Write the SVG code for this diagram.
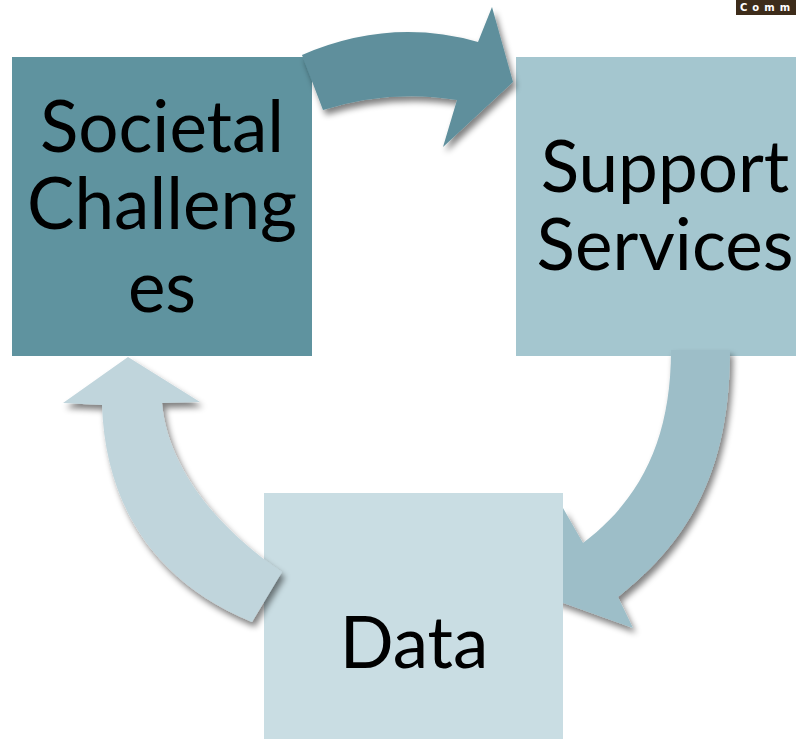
<svg xmlns="http://www.w3.org/2000/svg" width="796" height="739" viewBox="0 0 796 739">
<defs>
<filter id="sh" x="-20%" y="-20%" width="140%" height="140%">
<feGaussianBlur in="SourceAlpha" stdDeviation="3"/>
<feOffset dx="3" dy="5" result="b"/>
<feComponentTransfer><feFuncA type="linear" slope="0.5"/></feComponentTransfer>
<feMerge><feMergeNode/><feMergeNode in="SourceGraphic"/></feMerge>
</filter>
<style>
.lbl{font-family:Lato,"Open Sans","Liberation Sans",sans-serif;font-size:71px;fill:#000;text-anchor:middle}
</style>
</defs>
<rect width="796" height="739" fill="#fff"/>
<g id="comm">
<rect x="736" y="0" width="60" height="15" fill="#3d2c1a"/>
<text x="740" y="11" font-family="'DejaVu Sans',sans-serif" font-size="10" font-weight="bold" fill="#fff" letter-spacing="5">Comm</text>
</g>
<g id="support">
<rect x="516" y="57" width="290" height="299" fill="#a4c6cf"/>
<text class="lbl" x="665" y="192">Support</text>
<text class="lbl" x="665" y="270">Services</text>
</g>
<g id="societal">
<rect x="12" y="57" width="300" height="299" fill="#5f939f"/>
<text class="lbl" x="162" y="152">Societal</text>
<text class="lbl" x="162" y="229">Challeng</text>
<text class="lbl" x="162" y="312">es</text>
</g>
<g id="connectors">
<path id="c1" filter="url(#sh)" fill="#5e8f9c" d="M302,55 Q390,17 478,42 L492,7 L513,82 L443,147 L457,100 Q390,89 323,110 Z"/>
<path id="c2" filter="url(#sh)" fill="#9dbec8" d="M671,350 C671,440 640,500 583,543 L563,508 L555,600 L633,628 L618,597 C690,540 730,470 730,350 Z"/>
</g>
<g id="data">
<rect x="264" y="493" width="299" height="246" fill="#c9dde3"/>
<text class="lbl" x="414" y="668">Data</text>
</g>
<g id="connectors2">
<path id="c3" filter="url(#sh)" fill="#c0d5dc" d="M252,622 C150,580 105,500 102,405 L63,403 L128,357 L200,402 L162,403 C168,470 220,530 282,572 Z"/>
</g>
</svg>
